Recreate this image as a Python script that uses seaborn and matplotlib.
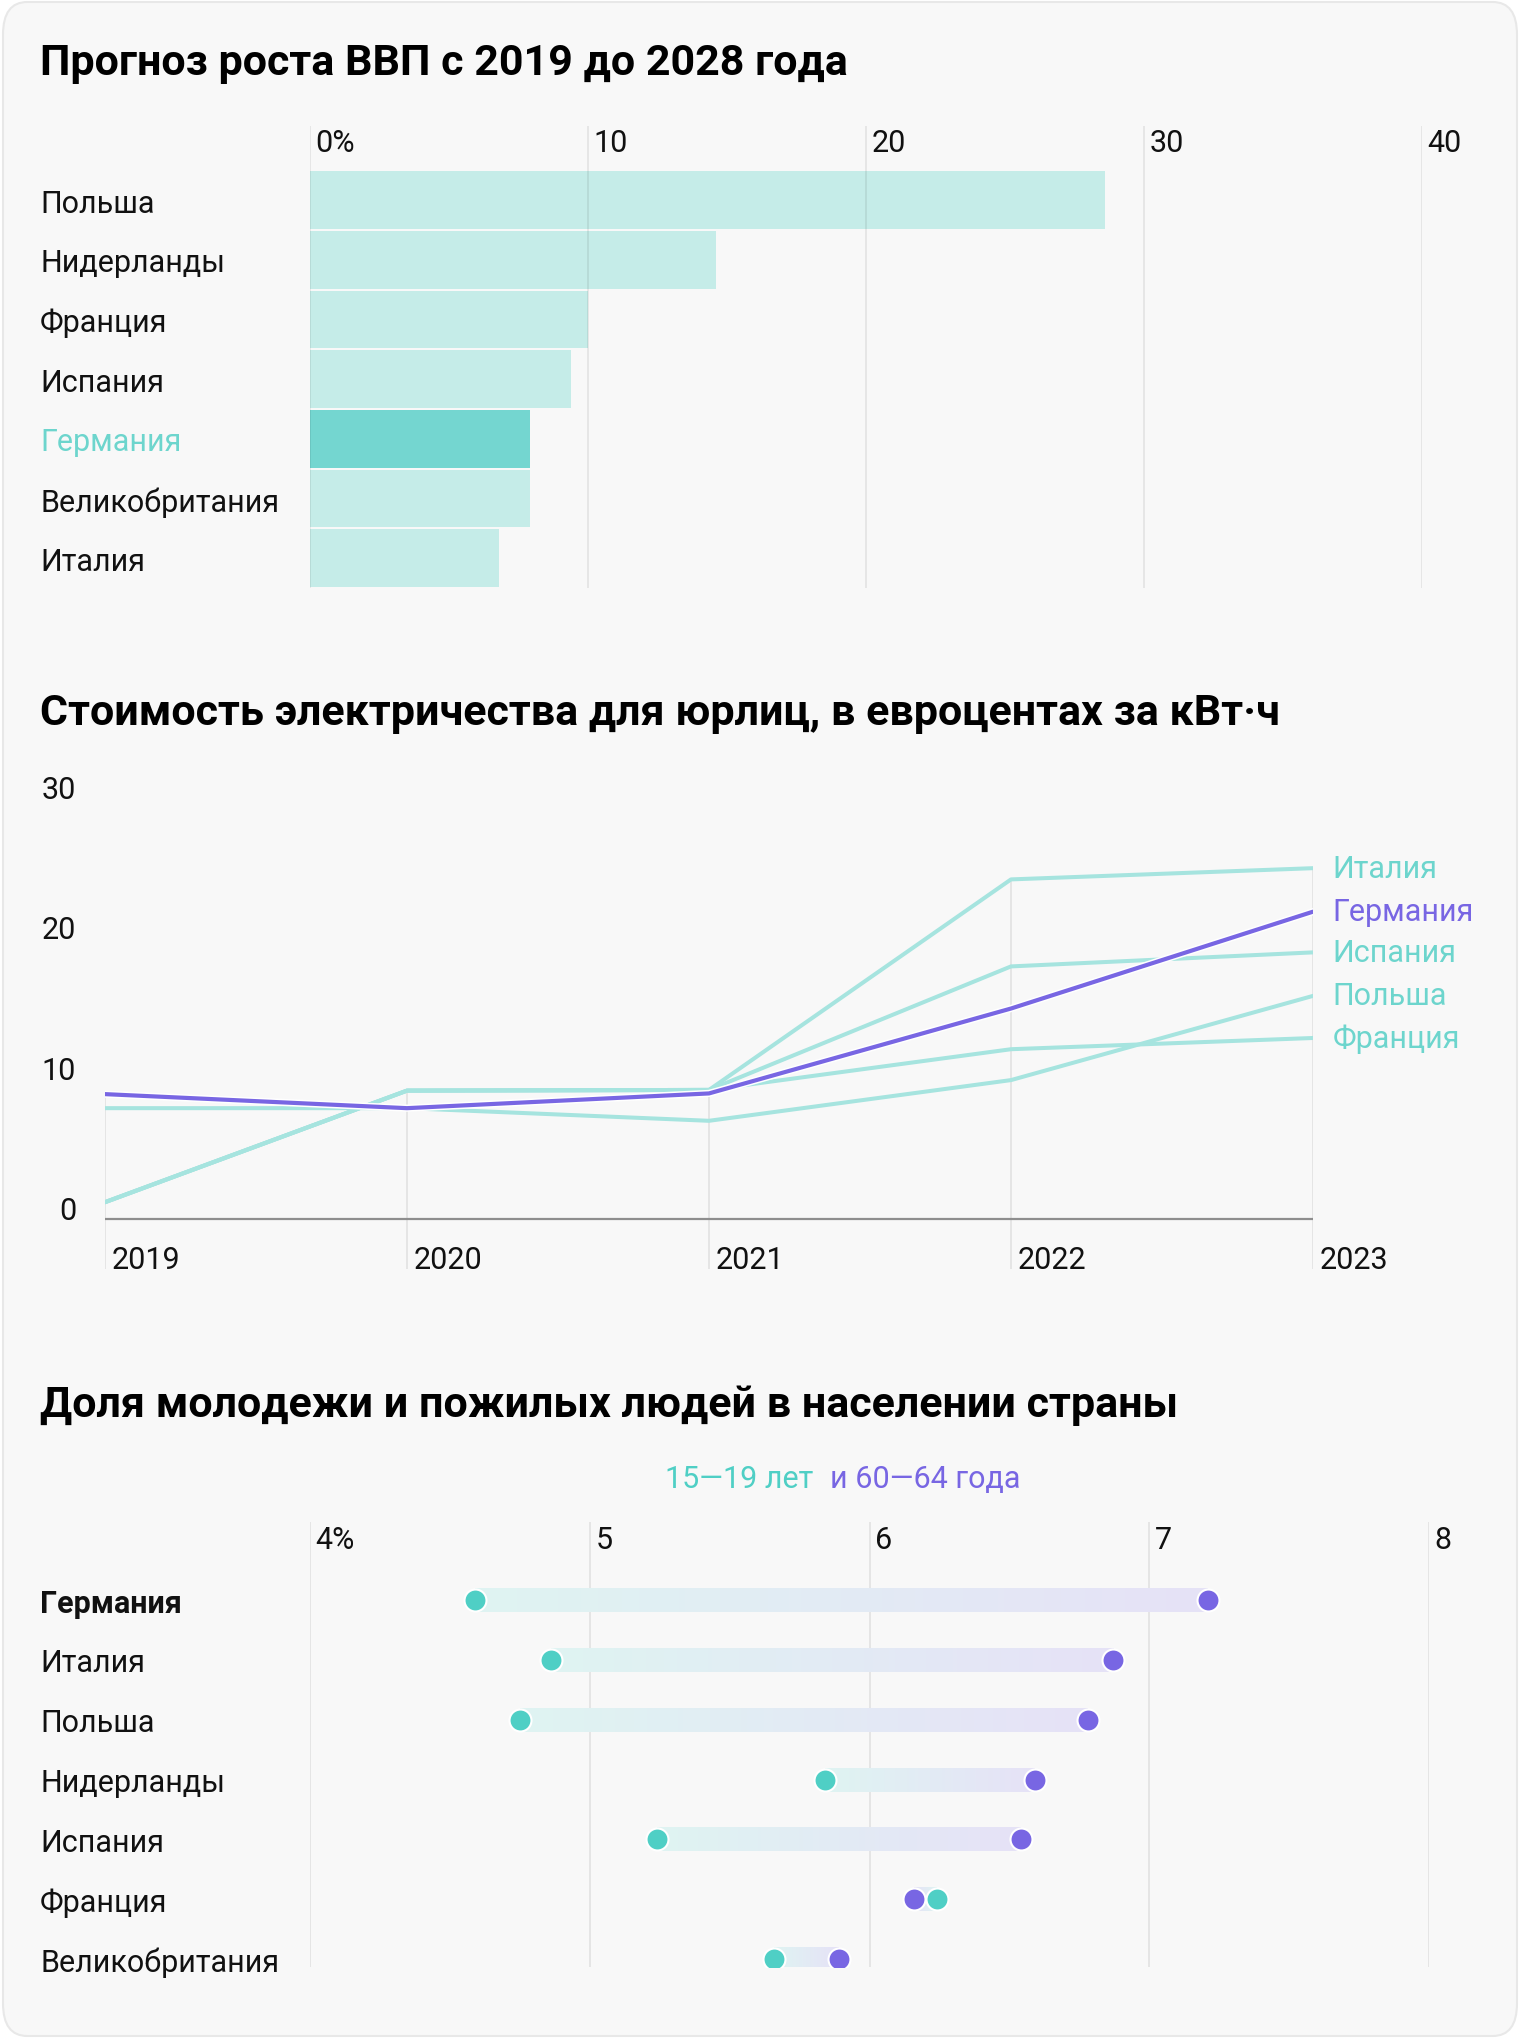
import matplotlib
matplotlib.use("Agg")
import matplotlib.pyplot as plt
import matplotlib.patheffects as pe
from matplotlib.patches import FancyBboxPatch
from matplotlib.colors import to_rgb
import seaborn as sns
import numpy as np
import pandas as pd

# ---------------- data ----------------
gdp_countries = ["Польша", "Нидерланды", "Франция", "Испания", "Германия", "Великобритания", "Италия"]
gdp_growth = [28.6, 14.6, 10.0, 9.4, 7.9, 7.9, 6.8]
gdp_ticks = [0, 10, 20, 30, 40]
gdp_tick_labels = ["0%", "10", "20", "30", "40"]

years = [2019, 2020, 2021, 2022, 2023]
elec_italy = [1.2, 9.15, 9.2, 24.2, 25.0]
elec_spain = [1.2, 9.15, 9.2, 18.0, 19.0]
elec_france = [1.2, 9.15, 9.2, 12.1, 12.9]
elec_poland = [7.9, 7.9, 7.0, 9.9, 15.9]
elec_germany = [8.9, 7.9, 8.95, 15.0, 21.9]
elec_ticks = [0, 10, 20, 30]

age_countries = ["Германия", "Италия", "Польша", "Нидерланды", "Испания", "Франция", "Великобритания"]
youth_15_19 = [4.59, 4.86, 4.75, 5.84, 5.24, 6.24, 5.66]
senior_60_64 = [7.21, 6.87, 6.78, 6.59, 6.54, 6.16, 5.89]
age_ticks = [4, 5, 6, 7, 8]
age_tick_labels = ["4%", "5", "6", "7", "8"]

# ---------------- style ----------------
sns.set_theme(style="white")
plt.rcParams["font.family"] = ["Roboto", "DejaVu Sans"]

TEAL = "#4fcfc5"
TEAL_TXT = "#6dd5cd"
TEAL_LINE = "#a6e4df"
PURPLE = "#7866e3"
BAR_LIGHT = "#c5ece8"
BAR_HI = "#74d6d0"
GRID = "#e2e2e2"
CARD = "#f8f8f8"

W, H = 1520, 2040
fig = plt.figure(figsize=(W / 100, H / 100), dpi=100, facecolor="white")

card = FancyBboxPatch((3 / W, 3 / H), (W - 6) / W, (H - 6) / H,
                      boxstyle="round,pad=0,rounding_size=0.016",
                      transform=fig.transFigure, facecolor=CARD,
                      edgecolor="#e8e8e8", linewidth=1.5, zorder=-10)
fig.patches.append(card)


def add_ax(l, t, r, b):
    ax = fig.add_axes([l / W, 1 - b / H, (r - l) / W, (b - t) / H])
    ax.set_facecolor("none")
    for s in ax.spines.values():
        s.set_visible(False)
    return ax


TITLE_FS = 31
LABEL_FS = 22
PAD_LEFT = (310 - 40) / 1.389

# ---------------- chart 1: GDP bars ----------------
fig.text(40 / W, 1 - 63 / H, "Прогноз роста ВВП с 2019 до 2028 года",
         fontsize=TITLE_FS, fontweight="bold", va="center", ha="left", color="#000000")

ax1 = add_ax(310, 127, 1422, 589)
df1 = pd.DataFrame({"country": gdp_countries, "growth": gdp_growth})
pal1 = {c: (BAR_HI if c == "Германия" else BAR_LIGHT) for c in gdp_countries}
sns.barplot(data=df1, y="country", x="growth", hue="country", palette=pal1,
            orient="h", width=0.965, saturation=1, legend=False, ax=ax1,
            edgecolor="none", zorder=1)
for t in gdp_ticks:
    ax1.axvline(t, color=(0, 0, 0, 0.09), lw=1.1, zorder=2)
ax1.set_xlim(0, 40)
ax1.set_ylim(6.5, -1.24)
ax1.set_xlabel("")
ax1.set_ylabel("")
ax1.set_xticks([])
ax1.set_yticks(range(len(gdp_countries)))
ax1.set_yticklabels(gdp_countries, fontsize=LABEL_FS)
ax1.tick_params(axis="y", length=0, pad=PAD_LEFT)
for lbl in ax1.get_yticklabels():
    lbl.set_ha("left")
    lbl.set_color(TEAL_TXT if lbl.get_text() == "Германия" else "#111111")
for t, lab in zip(gdp_ticks, gdp_tick_labels):
    ax1.annotate(lab, xy=(t, -0.97), xytext=(4, 0), textcoords="offset points",
                 ha="left", va="center", fontsize=LABEL_FS, color="#111111")

# ---------------- chart 2: electricity lines ----------------
fig.text(40 / W, 1 - 714 / H, "Стоимость электричества для юрлиц, в евроцентах за кВт·ч",
         fontsize=TITLE_FS, fontweight="bold", va="center", ha="left", color="#000000")

ax2 = add_ax(105, 799, 1313, 1270)
ymin2 = -3.56
series = [("Италия", elec_italy), ("Испания", elec_spain), ("Франция", elec_france),
          ("Польша", elec_poland), ("Германия", elec_germany)]
top_vals = np.max(np.array([s[1] for s in series]), axis=0)
ax2.vlines(years, ymin=ymin2, ymax=top_vals, color=GRID, lw=1.2, zorder=0)
ax2.axhline(0, color="#8e8e8e", lw=1.6, zorder=1)
for name, vals in series:
    if name == "Германия":
        sns.lineplot(x=years, y=vals, color=PURPLE, lw=3.0, ax=ax2, zorder=4,
                     path_effects=[pe.Stroke(linewidth=5.2, foreground="white"), pe.Normal()])
    else:
        sns.lineplot(x=years, y=vals, color=TEAL_LINE, lw=2.9, ax=ax2, zorder=3)
for name, vals in series:
    ax2.annotate(name, xy=(years[-1], vals[-1]), xytext=(14, 0), textcoords="offset points",
                 ha="left", va="center", fontsize=LABEL_FS,
                 color=(PURPLE if name == "Германия" else TEAL_TXT), annotation_clip=False)
for y in years:
    ax2.annotate(str(y), xy=(y, -2.85), xytext=(5, 0), textcoords="offset points",
                 ha="left", va="center", fontsize=LABEL_FS, color="#111111", annotation_clip=False)
ax2.set_xlim(2019, 2023)
ax2.set_ylim(ymin2, 30)
ax2.set_xticks([])
ax2.set_yticks(elec_ticks)
ax2.set_yticklabels([str(v) for v in elec_ticks], fontsize=LABEL_FS, color="#111111")
ax2.tick_params(axis="y", length=0, pad=(105 - 76) / 1.389)
for lbl in ax2.get_yticklabels():
    lbl.set_va("baseline")
ax2.set_xlabel("")
ax2.set_ylabel("")

# ---------------- chart 3: dumbbell ----------------
fig.text(40 / W, 1 - 1406 / H, "Доля молодежи и пожилых людей в населении страны",
         fontsize=TITLE_FS, fontweight="bold", va="center", ha="left", color="#000000")
fig.text(665 / W, 1 - 1480 / H, "15—19 лет", fontsize=22, color=TEAL, ha="left", va="center")
fig.text(1020 / W, 1 - 1480 / H, "и 60—64 года", fontsize=22, color=PURPLE, ha="right", va="center")

ax3 = add_ax(310, 1523, 1429, 1968)
for t in age_ticks:
    ax3.axvline(t, color=GRID, lw=1.2, zorder=0)
for t, lab in zip(age_ticks, age_tick_labels):
    ax3.annotate(lab, xy=(t, -1.0), xytext=(4, 0), textcoords="offset points",
                 ha="left", va="center", fontsize=LABEL_FS, color="#111111")

c_left = np.array(to_rgb("#dff4f2"))
c_right = np.array(to_rgb("#e6e2f7"))
grad = np.linspace(0, 1, 256)[None, :, None]
grad_img = c_left[None, None, :] * (1 - grad) + c_right[None, None, :] * grad
half_h = 0.2
for i, (a, b) in enumerate(zip(youth_15_19, senior_60_64)):
    ax3.imshow(grad_img, extent=[a, b, i + half_h, i - half_h], aspect="auto",
               interpolation="bilinear", zorder=1)

rows = list(range(len(age_countries)))
df_s = pd.DataFrame({"row": rows, "v": senior_60_64})
df_y = pd.DataFrame({"row": rows, "v": youth_15_19})
sns.scatterplot(data=df_s, x="v", y="row", color=PURPLE, s=250, edgecolor="white",
                linewidth=1.5, ax=ax3, zorder=3)
sns.scatterplot(data=df_y, x="v", y="row", color=TEAL, s=250, edgecolor="white",
                linewidth=1.5, ax=ax3, zorder=4)
ax3.set_xlim(4, 8)
ax3.set_ylim(6.13, -1.30)
ax3.set_xticks([])
ax3.set_yticks(rows)
ax3.set_yticklabels(age_countries, fontsize=LABEL_FS, color="#111111")
ax3.tick_params(axis="y", length=0, pad=PAD_LEFT)
for lbl in ax3.get_yticklabels():
    lbl.set_ha("left")
    if lbl.get_text() == "Германия":
        lbl.set_fontweight("bold")
ax3.set_xlabel("")
ax3.set_ylabel("")

fig.savefig("out.png", dpi=100, facecolor="white")
